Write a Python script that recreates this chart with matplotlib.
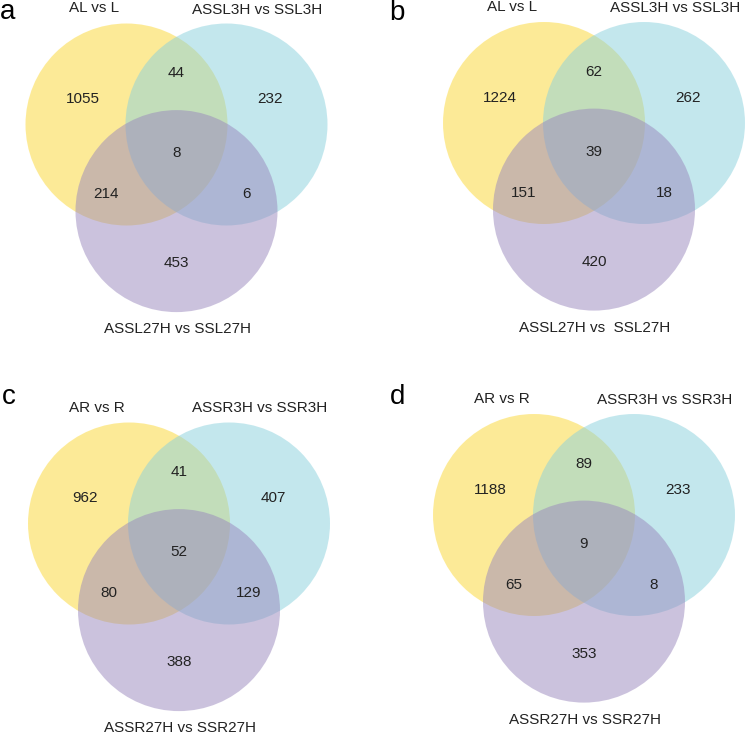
import matplotlib.pyplot as plt
from matplotlib.patches import Circle
import numpy as np

plt.rcParams['font.family'] = ['Liberation Sans', 'DejaVu Sans']

# region counts per panel: A only, B only, C only, AB, AC, BC, ABC
panel_letters = ['a', 'b', 'c', 'd']
set_a_names = ['AL vs L', 'AL vs L', 'AR vs R', 'AR vs R']
set_b_names = ['ASSL3H vs SSL3H', 'ASSL3H vs SSL3H', 'ASSR3H vs SSR3H', 'ASSR3H vs SSR3H']
set_c_names = ['ASSL27H vs SSL27H', 'ASSL27H vs  SSL27H', 'ASSR27H vs SSR27H', 'ASSR27H vs SSR27H']
only_a = [1055, 1224, 962, 1188]
only_b = [232, 262, 407, 233]
only_c = [453, 420, 388, 353]
ab = [44, 62, 41, 89]
ac = [214, 151, 80, 65]
bc = [6, 18, 129, 8]
abc = [8, 39, 52, 9]

colors = ['#FBD731', '#89D1DD', '#9987BD']

W, H = 746, 734
fig = plt.figure(figsize=(W / 100, H / 100), dpi=100)
ax = fig.add_axes([0, 0, 1, 1])
ax.set_xlim(0, W)
ax.set_ylim(H, 0)
ax.axis('off')

# yellow circle centre of each panel (pixels)
origins = [(126.5, 124.5), (544, 123), (129, 523.5), (534, 515)]
letter_pos = [(8, 12), (397, 13), (9, 397), (398, 397)]
d = 100.0
r = 101.0

# region label offsets from centroid, in units of d (y down)
offs = {
    'a': (-0.94, -0.54), 'b': (0.94, -0.54), 'c': (0.0, 1.10),
    'ab': (0.0, -0.80), 'ac': (-0.70, 0.41), 'bc': (0.70, 0.41), 'abc': (0.0, 0.0),
}

for i in range(4):
    x0, y0 = origins[i]
    centres = [(x0, y0), (x0 + d, y0), (x0 + d / 2, y0 + d * np.sqrt(3) / 2)]
    for (cx, cy), col in zip(centres, colors):
        ax.add_patch(Circle((cx, cy), r, facecolor=col, edgecolor='none', alpha=0.5))
    gx = np.mean([c[0] for c in centres])
    gy = np.mean([c[1] for c in centres])
    vals = {'a': only_a[i], 'b': only_b[i], 'c': only_c[i], 'ab': ab[i],
            'ac': ac[i], 'bc': bc[i], 'abc': abc[i]}
    for k, v in vals.items():
        ox, oy = offs[k]
        ax.text(gx + ox * d, gy + oy * d, str(v), ha='center', va='center',
                fontsize=11, color='#222222')
    # set names
    ax.text(centres[0][0] - 32, centres[0][1] - 116, set_a_names[i],
            ha='center', va='center', fontsize=11, color='#222222')
    ax.text(centres[1][0] + 31, centres[1][1] - 115, set_b_names[i],
            ha='center', va='center', fontsize=11, color='#222222')
    ax.text(centres[2][0] + 1, centres[2][1] + 118, set_c_names[i],
            ha='center', va='center', fontsize=11, color='#222222')
    lx, ly = letter_pos[i]
    ax.text(lx, ly, panel_letters[i], ha='center', va='center',
            fontsize=20, color='black')

fig.savefig('out.png', dpi=100, facecolor='white')
